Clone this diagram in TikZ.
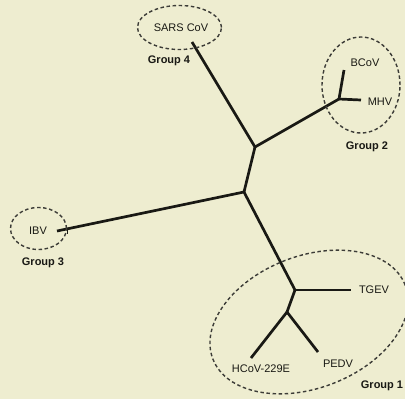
\documentclass[tikz,border=0pt]{standalone}
\usepackage{fontspec}
\setmainfont{Liberation Sans}
\definecolor{paper}{RGB}{238,237,208}
\definecolor{ink}{RGB}{25,25,20}
\begin{document}
\begin{tikzpicture}[x=1pt,y=-1pt,
  branch/.style={draw=ink, line width=2.7pt, line join=round},
  grp/.style={draw=ink!85, line width=1.4pt, dash pattern=on 3.5pt off 2.6pt},
  taxon/.style={text=ink, font=\fontsize{11}{13}\selectfont, inner sep=0pt},
  grouplabel/.style={text=ink, font=\bfseries\fontsize{11}{13}\selectfont, inner sep=0pt}]
% background
\fill[paper] (0,0) rectangle (405,399);
\useasboundingbox (0,0) rectangle (405,399);

% internal junctions
\coordinate (root) at (244,192);
\coordinate (j4)   at (255,147);
\coordinate (j2)   at (339,99);
\coordinate (j1)   at (295,290);
\coordinate (j1b)  at (287,312);
% branch tips
\coordinate (sars) at (192,42);
\coordinate (bcov) at (344,70);
\coordinate (mhv)  at (361,100);
\coordinate (ibv)  at (57,231);
\coordinate (tgev) at (351,290);
\coordinate (hcov) at (251,358);
\coordinate (pedv) at (318,352);
\coordinate (ibvtickA) at (67,228);
\coordinate (ibvtickB) at (67,234);

% tree
\draw[branch] (root) -- (j4);
\draw[branch] (j4) -- (sars);
\draw[branch] (j4) -- (j2);
\draw[branch] (j2) -- (bcov);
\draw[branch] (j2) -- (mhv);
\draw[branch] (root) -- (ibv);
\draw[branch] (root) -- (j1);
\draw[branch] (j1) -- (tgev);
\draw[branch] (j1) -- (j1b);
\draw[branch] (j1b) -- (hcov);
\draw[branch] (j1b) -- (pedv);
\draw[draw=ink, line width=1pt] (ibvtickA) -- (ibvtickB);

% group outlines
\draw[grp] (179.5,27.5) ellipse [x radius=42pt, y radius=22pt];
\draw[grp] (361,85) ellipse [x radius=39pt, y radius=48pt];
\draw[grp] (38.5,228.5) ellipse [x radius=28pt, y radius=21pt];
\draw[grp, rotate around={21:(309,322)}] (309,322) ellipse [x radius=103pt, y radius=66pt];

% taxon labels
\node[taxon] (tSars) at (181,28)  {SARS CoV};
\node[taxon] (tBcov) at (365,63)  {BCoV};
\node[taxon] (tMhv)  at (380,102) {MHV};
\node[taxon] (tIbv)  at (38,231)  {IBV};
\node[taxon] (tTgev) at (374,290) {TGEV};
\node[taxon] (tHcov) at (261,369) {HCoV-229E};
\node[taxon] (tPedv) at (338,364) {PEDV};

% group labels
\node[grouplabel] (g4) at (169,61)  {Group 4};
\node[grouplabel] (g2) at (367,147) {Group 2};
\node[grouplabel] (g3) at (43,263)  {Group 3};
\node[grouplabel] (g1) at (382,386) {Group 1};
\end{tikzpicture}
\end{document}
